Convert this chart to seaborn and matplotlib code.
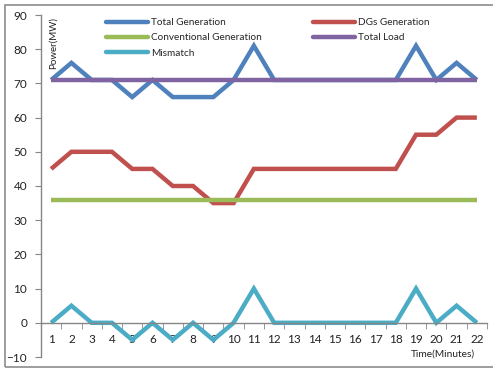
import matplotlib
matplotlib.use("Agg")
import matplotlib.pyplot as plt
import matplotlib.lines as mlines
from matplotlib.ticker import FixedLocator, NullFormatter
import seaborn as sns
import pandas as pd

minutes = list(range(1, 23))
total_generation = [71, 76, 71, 71, 66, 71, 66, 66, 66, 71, 81, 71, 71, 71, 71, 71, 71, 71, 81, 71, 76, 71]
dgs_generation = [45, 50, 50, 50, 45, 45, 40, 40, 35, 35, 45, 45, 45, 45, 45, 45, 45, 45, 55, 55, 60, 60]
conventional_generation = [36] * 22
total_load = [71] * 22
mismatch = [0, 5, 0, 0, -5, 0, -5, 0, -5, 0, 10, 0, 0, 0, 0, 0, 0, 0, 10, 0, 5, 0]

series_names = ["Total Generation", "DGs Generation", "Conventional Generation", "Total Load", "Mismatch"]
series_values = [total_generation, dgs_generation, conventional_generation, total_load, mismatch]
colors = ["#4F81BD", "#C0504D", "#9BBB59", "#8064A2", "#4BACC6"]
y_ticks = [-10, 0, 10, 20, 30, 40, 50, 60, 70, 80, 90]

rows = []
for name, vals in zip(series_names, series_values):
    for m, v in zip(minutes, vals):
        rows.append({"Time": m, "Power": v, "Series": name})
df = pd.DataFrame(rows)

sns.set_style("white")
plt.rcParams["font.family"] = ["Lato", "DejaVu Sans"]

fig = plt.figure(figsize=(4.93, 3.69), dpi=100)
ax = fig.add_axes([41 / 493, 1 - 357 / 369, (487 - 41) / 493, (357 - 15) / 369])

# total load is drawn on top of total generation
draw_order = ["Total Generation", "DGs Generation", "Conventional Generation", "Mismatch", "Total Load"]
for name in draw_order:
    sub = df[df["Series"] == name]
    sns.lineplot(data=sub, x="Time", y="Power", ax=ax, color=colors[series_names.index(name)],
                 linewidth=3.2, legend=False, solid_joinstyle="miter", solid_capstyle="butt")

ax.set_xlim(0.5, 22.5)
ax.set_ylim(-10, 90)
ax.set_xlabel("")
ax.set_ylabel("")

axis_grey = "#868686"
for s in ["top", "right"]:
    ax.spines[s].set_visible(False)
ax.spines["left"].set_color(axis_grey)
ax.spines["bottom"].set_color(axis_grey)
ax.spines["left"].set_linewidth(1.0)
ax.spines["bottom"].set_linewidth(1.0)
ax.spines["bottom"].set_position(("data", 0))

ax.set_yticks(y_ticks)
ax.tick_params(axis="y", direction="out", length=4, color=axis_grey, labelsize=8.5,
               labelcolor="#222222", pad=6, left=True)
ax.set_xticks(minutes)
ax.set_xticklabels([str(m) for m in minutes])
ax.tick_params(axis="x", which="major", length=0, labelsize=8.5, labelcolor="#222222", pad=8)
ax.xaxis.set_minor_locator(FixedLocator([m + 0.5 for m in [0] + minutes]))
ax.xaxis.set_minor_formatter(NullFormatter())
ax.tick_params(axis="x", which="minor", direction="out", length=4, color=axis_grey, bottom=True)

ax.text(0.018, 0.995, "Power(MW)", transform=ax.transAxes, rotation=90,
        ha="left", va="top", fontsize=7, color="#222222")
ax.text(0.973, 0.009, "Time(Minutes)", transform=ax.transAxes,
        ha="right", va="center", fontsize=7.3, color="#222222")

legend_order = ["Total Generation", "Conventional Generation", "Mismatch", "DGs Generation", "Total Load"]
handles = [mlines.Line2D([], [], color=colors[series_names.index(n)], linewidth=3.2) for n in legend_order]
ax.legend(handles, legend_order, ncol=2, loc="upper left", bbox_to_anchor=(0.125, 1.017),
          frameon=False, fontsize=7.2, handlelength=4.2, handletextpad=0.3,
          columnspacing=5.1, labelspacing=0.62)

# outer chart frame
fig.add_artist(plt.Rectangle((5 / 493, 1 - 367 / 369), 1.0, (367 - 5) / 369,
                             transform=fig.transFigure, fill=False, edgecolor="#8c8c8c", linewidth=1.2))

fig.savefig("out.png", dpi=100)
